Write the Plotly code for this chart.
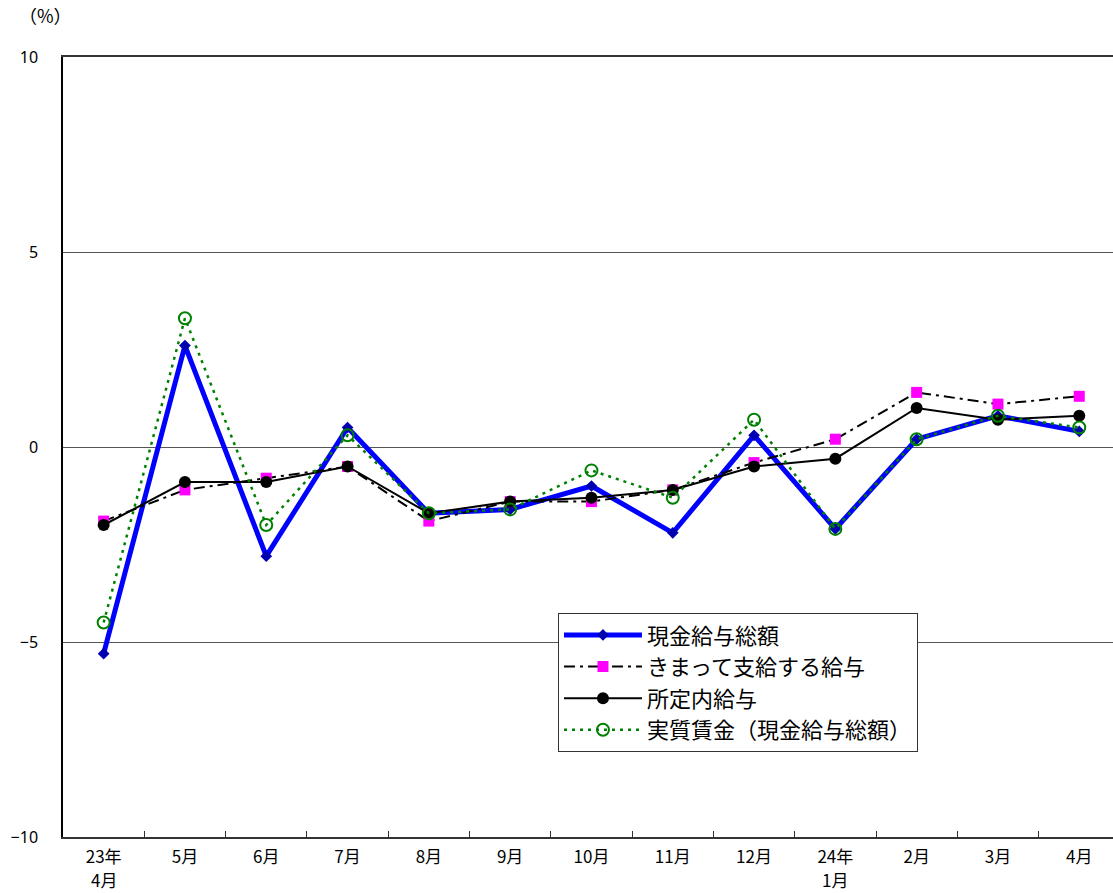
import plotly.graph_objects as go

categories = ["23年4月", "5月", "6月", "7月", "8月", "9月", "10月", "11月", "12月",
              "24年1月", "2月", "3月", "4月"]
tick_top = ["23年", "5月", "6月", "7月", "8月", "9月", "10月", "11月", "12月",
            "24年", "2月", "3月", "4月"]
tick_bottom = ["4月", "", "", "", "", "", "", "", "", "1月", "", "", ""]

genkin = [-5.3, 2.6, -2.8, 0.5, -1.7, -1.6, -1.0, -2.2, 0.3, -2.1, 0.2, 0.8, 0.4]
kimatte = [-1.9, -1.1, -0.8, -0.5, -1.9, -1.4, -1.4, -1.1, -0.4, 0.2, 1.4, 1.1, 1.3]
shoteinai = [-2.0, -0.9, -0.9, -0.5, -1.7, -1.4, -1.3, -1.1, -0.5, -0.3, 1.0, 0.7, 0.8]
jisshitsu = [-4.5, 3.3, -2.0, 0.3, -1.7, -1.6, -0.6, -1.3, 0.7, -2.1, 0.2, 0.8, 0.5]

y_ticks = [-10, -5, 0, 5, 10]
y_labels = ["−10", "−5", "0", "5", "10"]

FONT = "Noto Sans CJK JP"

fig = go.Figure()
fig.add_trace(go.Scatter(
    x=categories, y=genkin, name="現金給与総額", mode="lines+markers",
    line=dict(color="#0000FF", width=5),
    marker=dict(symbol="diamond", size=9, color="#0000B0"),
    legendgroup="a"))
fig.add_trace(go.Scatter(
    x=categories, y=kimatte, name="きまって支給する給与", mode="lines+markers",
    line=dict(color="#000000", width=2, dash="11px,5px,3px,5px"),
    marker=dict(symbol="square", size=11, color="#FF00FF"),
    legendgroup="b"))
fig.add_trace(go.Scatter(
    x=categories, y=shoteinai, name="所定内給与", mode="lines+markers",
    line=dict(color="#000000", width=2),
    marker=dict(symbol="circle", size=12, color="#000000"),
    legendgroup="c"))
fig.add_trace(go.Scatter(
    x=categories, y=jisshitsu, name="実質賃金（現金給与総額）", mode="lines+markers",
    line=dict(color="#008000", width=2.5, dash="3px,5px"),
    marker=dict(symbol="circle-open", size=12, color="#008000", line=dict(width=2)),
    legendgroup="d"))

annotations = [dict(
    text="（%）", x=0, y=1, xref="paper", yref="paper",
    xanchor="center", yanchor="bottom", xshift=-18, yshift=27,
    showarrow=False, font=dict(family=FONT, size=18))]
for cat, lab in zip(categories, tick_bottom):
    if lab:
        annotations.append(dict(
            text=lab, x=cat, y=0, xref="x", yref="paper",
            xanchor="center", yanchor="bottom", yshift=-56, borderpad=0,
            showarrow=False, font=dict(family=FONT, size=17)))

fig.update_layout(
    width=1113, height=893,
    margin=dict(l=63, r=0, t=57, b=56, autoexpand=False),
    paper_bgcolor="white", plot_bgcolor="white",
    font=dict(family=FONT, size=16, color="black"),
    showlegend=True,
    legend=dict(
        x=0.4714, y=0.287, xanchor="left", yanchor="top",
        bgcolor="white", bordercolor="#333333", borderwidth=1,
        font=dict(family=FONT, size=22, color="black"),
        traceorder="grouped", tracegroupgap=0,
        itemwidth=78,
    ),
    annotations=annotations,
)

fig.update_xaxes(
    type="category", range=[-0.5, 12.415], automargin=False,
    tickvals=categories, ticktext=tick_top,
    showline=True, linecolor="#333333", linewidth=2, mirror=True,
    ticks="inside", tickson="boundaries", ticklen=6, tickcolor="#333333",
    showgrid=False, tickfont=dict(family=FONT, size=17), ticklabelstandoff=4,
)
fig.update_yaxes(
    range=[-10, 10], tickvals=y_ticks, ticktext=y_labels, automargin=False,
    showline=True, linecolor="#000000", linewidth=1.5,
    showgrid=True, gridcolor="#555555", gridwidth=1,
    zeroline=False, ticks="", ticklabelstandoff=20,
    tickfont=dict(family="Noto Sans", size=16),
)

fig.write_html("out.html", config={"displayModeBar": False},
               post_script="document.body.style.margin='0';document.body.style.padding='0';")
